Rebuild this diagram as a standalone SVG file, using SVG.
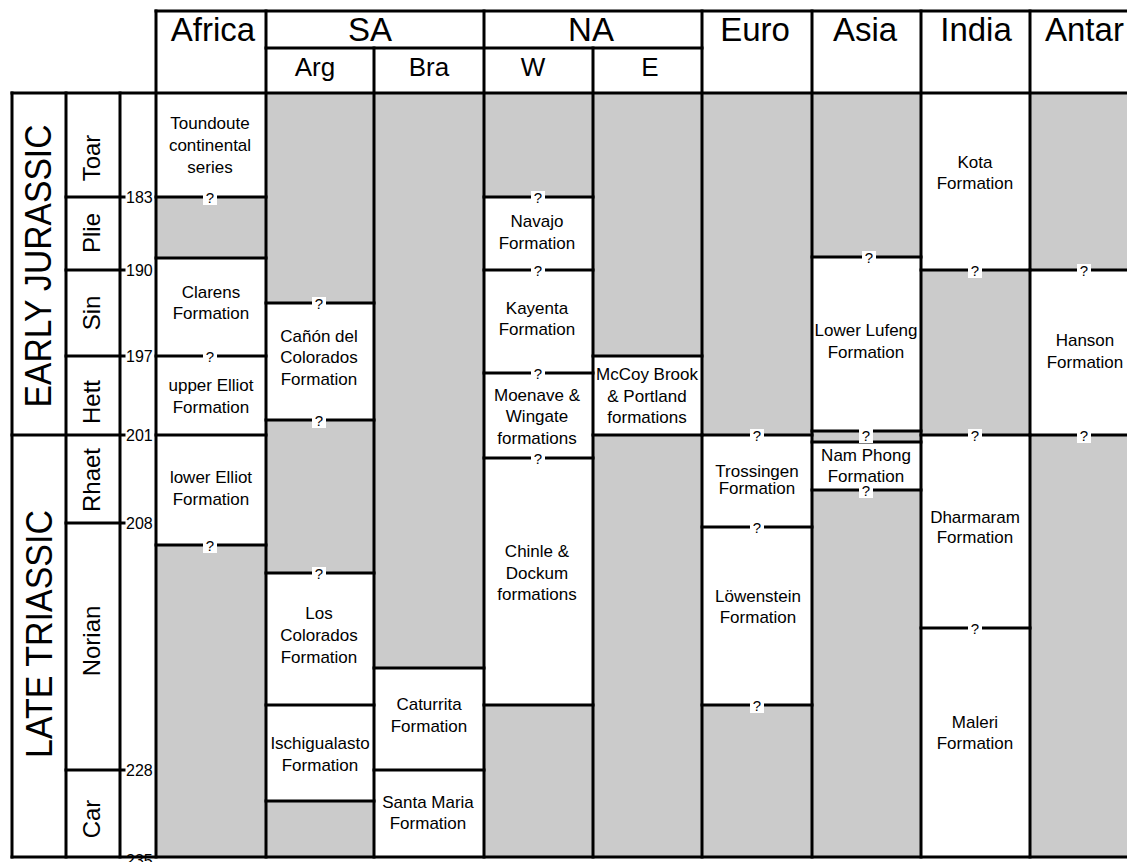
<svg xmlns="http://www.w3.org/2000/svg" width="1127" height="862" viewBox="0 0 1127 862">
<style>
text{font-family:"Liberation Sans",Arial,sans-serif;fill:#000}
.f{font-size:17px;text-anchor:middle}
.h{font-size:33px;text-anchor:middle}
.s{font-size:26px;text-anchor:middle}
.st{font-size:24px;text-anchor:middle}
.era{font-size:37px;text-anchor:middle}
.age{font-size:16px}
.q{font-size:15px;text-anchor:middle}
.w{fill:#fff}
.g{fill:#cbcbcb}
.ln{stroke:#000;stroke-width:3;fill:none;stroke-linecap:square}
.qb{fill:#fff}
</style>
<defs>
<g id="qm"><rect class="qb" x="-7" y="-6" width="14" height="14"/><text class="q" x="0" y="6">?</text></g>
</defs>
<rect x="0" y="0" width="1127" height="862" fill="#fff"/>
<rect class="g" x="156" y="93" width="990" height="764"/>

<g id="axis">
<g id="era-early"><text class="era" transform="translate(51,266) rotate(-90)" textLength="283" lengthAdjust="spacingAndGlyphs">EARLY JURASSIC</text></g>
<g id="era-late"><text class="era" transform="translate(52,634) rotate(-90)" textLength="248" lengthAdjust="spacingAndGlyphs">LATE TRIASSIC</text></g>
<g id="stage-toar"><text class="st" transform="translate(100,158) rotate(-90)">Toar</text></g>
<g id="stage-plie"><text class="st" transform="translate(100,233) rotate(-90)">Plie</text></g>
<g id="stage-sin"><text class="st" transform="translate(100,313) rotate(-90)">Sin</text></g>
<g id="stage-hett"><text class="st" transform="translate(100,402) rotate(-90)">Hett</text></g>
<g id="stage-rhaet"><text class="st" transform="translate(100,480) rotate(-90)">Rhaet</text></g>
<g id="stage-norian"><text class="st" transform="translate(100,641) rotate(-90)">Norian</text></g>
<g id="stage-car"><text class="st" transform="translate(100,819) rotate(-90)">Car</text></g>
<text class="age" x="126" y="203">183</text>
<text class="age" x="126" y="276">190</text>
<text class="age" x="126" y="362">197</text>
<text class="age" x="126" y="441">201</text>
<text class="age" x="126" y="529">208</text>
<text class="age" x="126" y="776">228</text>
<text class="age" x="126" y="866">235</text>
</g>

<g id="header">
<text class="h" x="213" y="41">Africa</text>
<text class="h" x="370" y="41">SA</text>
<text class="h" x="591" y="41">NA</text>
<text class="h" x="755" y="41">Euro</text>
<text class="h" x="865" y="41">Asia</text>
<text class="h" x="976" y="41">India</text>
<text x="1045" y="41" style="font-size:33px">Antar</text>
<text class="s" x="315" y="76">Arg</text>
<text class="s" x="429" y="76">Bra</text>
<text class="s" x="533" y="76">W</text>
<text class="s" x="650" y="76">E</text>
</g>

<g id="toundoute"><rect class="w" x="156" y="93" width="110" height="104"/><text class="f" x="210" y="129">Toundoute</text><text class="f" x="210" y="151">continental</text><text class="f" x="210" y="173">series</text></g>
<g id="clarens"><rect class="w" x="156" y="258" width="110" height="98"/><text class="f" x="211" y="298">Clarens</text><text class="f" x="211" y="319">Formation</text></g>
<g id="upper-elliot"><rect class="w" x="156" y="356" width="110" height="79"/><text class="f" x="211" y="391">upper Elliot</text><text class="f" x="211" y="413">Formation</text></g>
<g id="lower-elliot"><rect class="w" x="156" y="435" width="110" height="110"/><text class="f" x="211" y="483">lower Elliot</text><text class="f" x="211" y="505">Formation</text></g>

<g id="canon"><rect class="w" x="266" y="303" width="108" height="117"/><text class="f" x="319" y="342">Cañón del</text><text class="f" x="319" y="363">Colorados</text><text class="f" x="319" y="385">Formation</text></g>
<g id="los-colorados"><rect class="w" x="266" y="573" width="108" height="132"/><text class="f" x="319" y="619">Los</text><text class="f" x="319" y="641">Colorados</text><text class="f" x="319" y="663">Formation</text></g>
<g id="ischigualasto"><rect class="w" x="266" y="705" width="108" height="96"/><text class="f" x="320" y="749">Ischigualasto</text><text class="f" x="320" y="771">Formation</text></g>

<g id="caturrita"><rect class="w" x="374" y="668" width="110" height="102"/><text class="f" x="429" y="710">Caturrita</text><text class="f" x="429" y="732">Formation</text></g>
<g id="santa-maria"><rect class="w" x="374" y="770" width="110" height="87"/><text class="f" x="428" y="808">Santa Maria</text><text class="f" x="428" y="829">Formation</text></g>

<g id="navajo"><rect class="w" x="484" y="197" width="109" height="73"/><text class="f" x="537" y="227">Navajo</text><text class="f" x="537" y="249">Formation</text></g>
<g id="kayenta"><rect class="w" x="484" y="270" width="109" height="103"/><text class="f" x="537" y="314">Kayenta</text><text class="f" x="537" y="335">Formation</text></g>
<g id="moenave"><rect class="w" x="484" y="373" width="109" height="85"/><text class="f" x="537" y="401">Moenave &amp;</text><text class="f" x="537" y="422">Wingate</text><text class="f" x="537" y="444">formations</text></g>
<g id="chinle"><rect class="w" x="484" y="458" width="109" height="247"/><text class="f" x="537" y="557">Chinle &amp;</text><text class="f" x="537" y="579">Dockum</text><text class="f" x="537" y="600">formations</text></g>

<g id="mccoy"><rect class="w" x="593" y="356" width="109" height="79"/><text class="f" x="647" y="380">McCoy Brook</text><text class="f" x="647" y="402">&amp; Portland</text><text class="f" x="647" y="423">formations</text></g>

<g id="trossingen"><rect class="w" x="702" y="435" width="110" height="92"/><text class="f" x="757" y="477">Trossingen</text><text class="f" x="757" y="494">Formation</text></g>
<g id="lowenstein"><rect class="w" x="702" y="527" width="110" height="178"/><text class="f" x="758" y="602">Löwenstein</text><text class="f" x="758" y="623">Formation</text></g>

<g id="lower-lufeng"><rect class="w" x="812" y="257" width="109" height="174"/><text class="f" x="866" y="336">Lower Lufeng</text><text class="f" x="866" y="358">Formation</text></g>
<g id="nam-phong"><rect class="w" x="812" y="442" width="109" height="48"/><text class="f" x="866" y="461">Nam Phong</text><text class="f" x="866" y="482">Formation</text></g>

<g id="kota"><rect class="w" x="921" y="93" width="109" height="177"/><text class="f" x="975" y="168">Kota</text><text class="f" x="975" y="189">Formation</text></g>
<g id="dharmaram"><rect class="w" x="921" y="435" width="109" height="193"/><text class="f" x="975" y="523">Dharmaram</text><text class="f" x="975" y="543">Formation</text></g>
<g id="maleri"><rect class="w" x="921" y="628" width="109" height="229"/><text class="f" x="975" y="728">Maleri</text><text class="f" x="975" y="749">Formation</text></g>

<g id="hanson"><rect class="w" x="1030" y="270" width="110" height="165"/><text class="f" x="1085" y="346">Hanson</text><text class="f" x="1085" y="368">Formation</text></g>

<g id="connectors">
<path class="ln" d="M156 11H1140M266 48H702M12 93H1140M12 857H1140"/>
<path class="ln" d="M12 93V857M66 93V857M120 93V857M156 11V857M266 11V857M374 48V857M484 11V857M593 48V857M702 11V857M812 11V857M921 11V857M1030 11V857"/>
<path class="ln" d="M66 197H124M66 270H124M66 356H124M12 435H124M66 523H124M66 770H124"/>
<path class="ln" d="M156 197H266M156 258H266M156 356H266M156 435H266M156 545H266"/>
<path class="ln" d="M266 303H374M266 420H374M266 573H374M266 705H374M266 801H374"/>
<path class="ln" d="M374 668H484M374 770H484"/>
<path class="ln" d="M484 197H593M484 270H593M484 373H593M484 458H593M484 705H593"/>
<path class="ln" d="M593 356H702M593 435H702"/>
<path class="ln" d="M702 435H812M702 527H812M702 705H812"/>
<path class="ln" d="M812 257H921M812 431H921M812 442H921M812 490H921"/>
<path class="ln" d="M921 270H1030M921 435H1030M921 628H1030"/>
<path class="ln" d="M1030 270H1140M1030 435H1140"/>
</g>

<g id="uncertain">
<use href="#qm" x="210" y="197"/><use href="#qm" x="210" y="356"/><use href="#qm" x="210" y="545"/>
<use href="#qm" x="319" y="303"/><use href="#qm" x="319" y="420"/><use href="#qm" x="319" y="573"/>
<use href="#qm" x="538" y="197"/><use href="#qm" x="538" y="270"/><use href="#qm" x="538" y="373"/><use href="#qm" x="538" y="458"/>
<use href="#qm" x="757" y="435"/><use href="#qm" x="757" y="527"/><use href="#qm" x="757" y="705"/>
<use href="#qm" x="869" y="257"/><use href="#qm" x="866" y="435"/><use href="#qm" x="866" y="490"/>
<use href="#qm" x="975" y="270"/><use href="#qm" x="975" y="435"/><use href="#qm" x="975" y="628"/>
<use href="#qm" x="1084" y="270"/><use href="#qm" x="1084" y="435"/>
</g>
</svg>
